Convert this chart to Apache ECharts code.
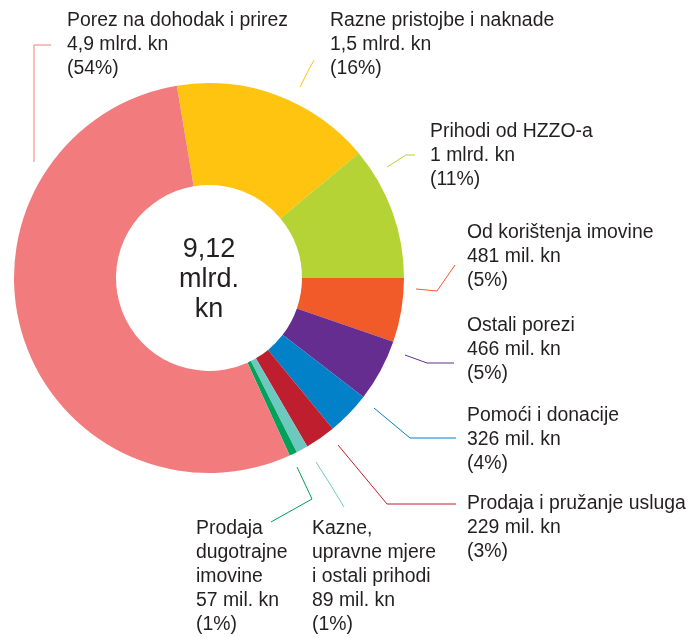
<!DOCTYPE html>
<html>
<head>
    <meta charset="utf-8">
    <script src="https://cdn.jsdelivr.net/npm/echarts@6/dist/echarts.min.js"></script>
    <style>
        html, body { margin: 0; padding: 0; background: #fff; }
        #container { width: 688px; height: 637px; }
    </style>
</head>
<body>
<div id="container"></div>
<script>
    // podaci, redom u smjeru kazaljke od vrha
    let names = ['Razne pristojbe i naknade', 'Prihodi od HZZO-a', 'Od korištenja imovine', 'Ostali porezi',
        'Pomoći i donacije', 'Prodaja i pružanje usluga', 'Kazne,\nupravne mjere\ni ostali prihodi',
        'Prodaja\ndugotrajne\nimovine', 'Porez na dohodak i prirez'];
    let values = [1500, 1000, 481, 466, 326, 229, 89, 57, 4900]; // mil. kn
    let amounts = ['1,5 mlrd. kn', '1 mlrd. kn', '481 mil. kn', '466 mil. kn', '326 mil. kn',
        '229 mil. kn', '89 mil. kn', '57 mil. kn', '4,9 mlrd. kn'];
    let shares = [16, 11, 5, 5, 4, 3, 1, 1, 54];
    let colors = ['#fec410', '#b5d334', '#f15a29', '#662d91', '#0281c8', '#be1e2d', '#6dc8bf', '#00a15a', '#f27c7d'];
    let totalText = '9,12\nmlrd.\nkn';

    // polozaj natpisa i linija (lijevi gornji kut teksta)
    let labelPos = [[330, 9], [430, 120], [467, 221], [467, 314], [467, 404], [467, 492], [312, 517], [196, 517], [67, 9]];
    let linePts = [
        [[300, 87], [307, 73], [314, 60]],
        [[387, 167], [406, 155], [415, 155]],
        [[416, 289], [437, 291], [455, 265]],
        [[405, 355], [427, 363], [454, 363]],
        [[374, 408], [410, 438], [456, 438]],
        [[338, 445], [387, 504], [456, 504]],
        [[316, 462], [330, 484], [344, 507]],
        [[297, 467], [312, 499], [271, 522]],
        [[34, 162], [34, 45], [51, 45]]
    ];

    let dom = document.getElementById("container");
    let myChart = echarts.init(dom);
    let data = values.map(function (v, i) {
        return {name: names[i], value: v, itemStyle: {color: colors[i]}};
    });
    let option = {
        animation: false,
        graphic: [{
            type: 'text',
            x: 209,
            y: 280,
            style: {
                text: totalText,
                align: 'center',
                verticalAlign: 'middle',
                fontFamily: 'Liberation Sans',
                fontSize: 27,
                lineHeight: 30,
                fill: '#231f20'
            }
        }],
        series: [{
            type: 'pie',
            center: [209, 278],
            radius: [93, 195],
            startAngle: 99.5,
            clockwise: true,
            avoidLabelOverlap: false,
            data: data,
            label: {
                show: true,
                position: 'outside',
                formatter: function (p) {
                    let i = p.dataIndex;
                    return names[i] + '\n' + amounts[i] + '\n(' + shares[i] + '%)';
                },
                fontFamily: 'Liberation Sans',
                fontSize: 19.4,
                lineHeight: 24,
                color: '#231f20',
                align: 'left'
            },
            labelLine: {
                show: true,
                lineStyle: {width: 1}
            },
            labelLayout: function (params) {
                let i = params.dataIndex;
                return {
                    x: labelPos[i][0],
                    y: labelPos[i][1],
                    align: 'left',
                    verticalAlign: 'top',
                    labelLinePoints: linePts[i]
                };
            },
            emphasis: {disabled: true}
        }]
    };
    myChart.setOption(option);
</script>
</body>
</html>
